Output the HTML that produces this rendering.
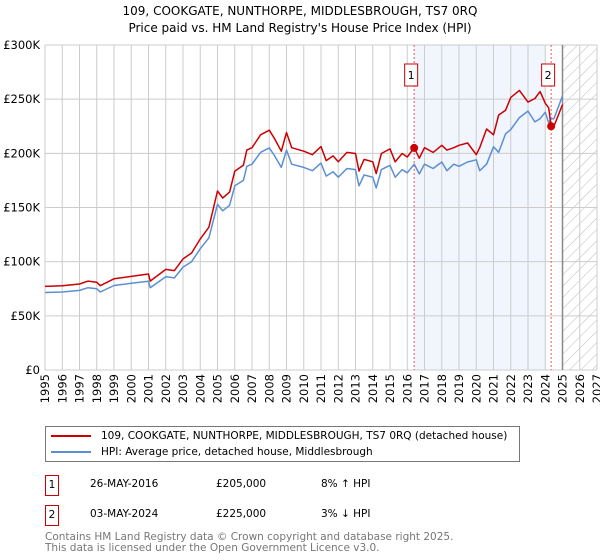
<!DOCTYPE html>
<html><head><meta charset="utf-8">
<style>
body{margin:0;width:600px;height:560px;background:#fff;font-family:"DejaVu Sans","Liberation Sans",sans-serif;overflow:hidden}
svg{position:absolute;left:0;top:0}
</style></head>
<body>
<svg id="chart" width="600" height="560"></svg>
<script>
const years=[1995,1996,1997,1997.5,1998,1998.2,1999,2000,2001,2001.1,2002,2002.5,2003,2003.5,2004,2004.5,2005,2005.3,2005.7,2006,2006.5,2006.7,2007,2007.5,2008,2008.3,2008.7,2009,2009.3,2010,2010.5,2011,2011.3,2011.7,2012,2012.5,2013,2013.2,2013.5,2014,2014.2,2014.5,2015,2015.3,2015.7,2016,2016.4,2016.7,2017,2017.5,2018,2018.3,2018.7,2019,2019.5,2020,2020.2,2020.6,2021,2021.3,2021.7,2022,2022.5,2023,2023.4,2023.7,2024,2024.2,2024.34,2024.5,2025];
const hpi=[71.5,72,73.5,76,75,72,78,80,82,76,86,85,95,100,112,122,153,147,152,170,175,188,190,201,205,198,187,203,190,187,184,191,179,183,178,186,185,170,180,178,168,185,189,178,185,182,190,181,190,186,192,184,190,188,192,194,184,190,206,201,218,222,233,239,229,232,238,228,232,232,253];
const paid=[77.2,77.8,79.4,82.1,81,77.8,84.2,86.4,88.6,82.1,92.9,91.8,102.6,108,121,131.8,165.2,158.8,164.2,183.6,189,203,205.2,217.1,221.4,213.8,202,219.2,205.2,202,198.7,206.3,193.3,197.6,192.2,200.9,199.8,183.6,194.4,192.2,181.4,199.8,204.1,192.2,199.8,196.6,205.2,195.5,205.2,200.9,207.4,203,205.2,207.4,209.5,198.7,205.2,222.5,217.1,235.4,239.8,251.6,258.1,247.3,250.6,257,246.2,242,225,225,245];
const saleYears=[2016.4,2024.34];
const saleValues=[205,225];
const yTicks=[0,50,100,150,200,250,300];
const yTickLabels=["£0","£50K","£100K","£150K","£200K","£250K","£300K"];

const NS="http://www.w3.org/2000/svg";
const svg=document.getElementById('chart');
const L=45,R=597,T=45,B=370;
const X=y=>L+(y-1995)*(R-L)/32;
const Y=v=>B-v*(B-T)/300;
function el(tag,attrs,parent){const e=document.createElementNS(NS,tag);for(const k in attrs)e.setAttribute(k,attrs[k]);(parent||svg).appendChild(e);return e;}
function txt(s,attrs){const e=el('text',attrs);e.textContent=s;return e;}

const title1=txt("109, COOKGATE, NUNTHORPE, MIDDLESBROUGH, TS7 0RQ",{x:300,y:15,'text-anchor':'middle','font-size':12,fill:'#000'});


const title2=txt("Price paid vs. HM Land Registry's House Price Index (HPI)",{x:300,y:32,'text-anchor':'middle','font-size':12,fill:'#000'});



const shade=el('rect',{x:X(2016.4),y:T,width:X(2024.0)-X(2016.4),height:B-T,fill:'#eef3fc',opacity:0.8});


const defs=el('defs',{});
const pat=el('pattern',{id:'hatch',width:8,height:8,patternUnits:'userSpaceOnUse',patternTransform:'rotate(45)'},defs);
el('line',{x1:0,y1:0,x2:0,y2:8,stroke:'#bbb','stroke-width':1},pat);
const hatch=el('rect',{x:X(2025),y:T,width:R-X(2025),height:B-T,fill:'url(#hatch)'});



for(let yr=1995;yr<=2027;yr++){
  const g=el('line',{x1:X(yr),x2:X(yr),y1:T,y2:B,stroke:'#ccc','stroke-width':1});
  
  
  const t=txt(String(yr),{transform:`translate(${X(yr)+4},${B+4}) rotate(-90)`,'text-anchor':'end','font-size':11.5,fill:'#000'});
  
  
}
yTicks.forEach((v,i)=>{
  const g=el('line',{x1:L,x2:R,y1:Y(v),y2:Y(v),stroke:'#ccc','stroke-width':1});
  
  
  const t=txt(yTickLabels[i],{x:40,y:Y(v)+4,'text-anchor':'end','font-size':11.5,fill:'#000'});
  
  
});
const nowLine=el('line',{x1:X(2025),x2:X(2025),y1:T,y2:B,stroke:'#888','stroke-width':1.5});



saleYears.forEach((yr,i)=>{
  const l=el('line',{x1:X(yr),x2:X(yr),y1:T,y2:B,stroke:'#e55','stroke-width':1,'stroke-dasharray':'2,2'});
  
  
  const bx=el('rect',{x:X(yr)-9.5,y:64,width:13,height:22,fill:'#fff',stroke:'#c00','stroke-width':1});
  
  
  const t=txt(String(i+1),{x:X(yr)-3,y:79,'text-anchor':'middle','font-size':11,fill:'#000'});
  
  
});

function line(vals,color,name){
  const d=vals.map((v,i)=>(i?'L':'M')+X(years[i]).toFixed(1)+','+Y(v).toFixed(1)).join('');
  const p=el('path',{d:d,fill:'none',stroke:color,'stroke-width':1.5,'stroke-linejoin':'round'});
  
  
}
line(hpi,'#5b8fd4','hpi-line');
line(paid,'#cc0000','price-paid-line');
saleYears.forEach((yr,i)=>{
  const c=el('circle',{cx:X(yr),cy:Y(saleValues[i]),r:4,fill:'#cc0000'});
  
  
});
</script>
<div style="position:absolute;left:45px;top:426px;width:473px;height:34px;border:1px solid #777;font-size:10.5px">
  <div style="position:absolute;left:5px;top:3px;white-space:nowrap"><span style="display:inline-block;width:40px;height:2px;background:#cc0000;vertical-align:middle;margin-right:10px"></span>109, COOKGATE, NUNTHORPE, MIDDLESBROUGH, TS7 0RQ (detached house)</div>
  <div style="position:absolute;left:5px;top:19px;white-space:nowrap"><span style="display:inline-block;width:40px;height:2px;background:#5b8fd4;vertical-align:middle;margin-right:10px"></span>HPI: Average price, detached house, Middlesbrough</div>
</div>
<div style="position:absolute;left:45px;top:475px;font-size:10.5px;width:500px;height:22px">
  <span style="position:absolute;left:0;top:0;width:12px;height:19px;border:1px solid #c00;text-align:center;line-height:19px">1</span>
  <span style="position:absolute;left:45px;top:3px">26-MAY-2016</span>
  <span style="position:absolute;left:171px;top:3px">£205,000</span>
  <span style="position:absolute;left:276px;top:3px">8% ↑ HPI</span>
</div>
<div style="position:absolute;left:45px;top:505px;font-size:10.5px;width:500px;height:22px">
  <span style="position:absolute;left:0;top:0;width:12px;height:19px;border:1px solid #c00;text-align:center;line-height:19px">2</span>
  <span style="position:absolute;left:45px;top:3px">03-MAY-2024</span>
  <span style="position:absolute;left:171px;top:3px">£225,000</span>
  <span style="position:absolute;left:276px;top:3px">3% ↓ HPI</span>
</div>
<div style="position:absolute;left:45px;top:532px;font-size:10.5px;color:#777;line-height:11px">Contains HM Land Registry data © Crown copyright and database right 2025.<br>This data is licensed under the Open Government Licence v3.0.</div>
</body></html>
